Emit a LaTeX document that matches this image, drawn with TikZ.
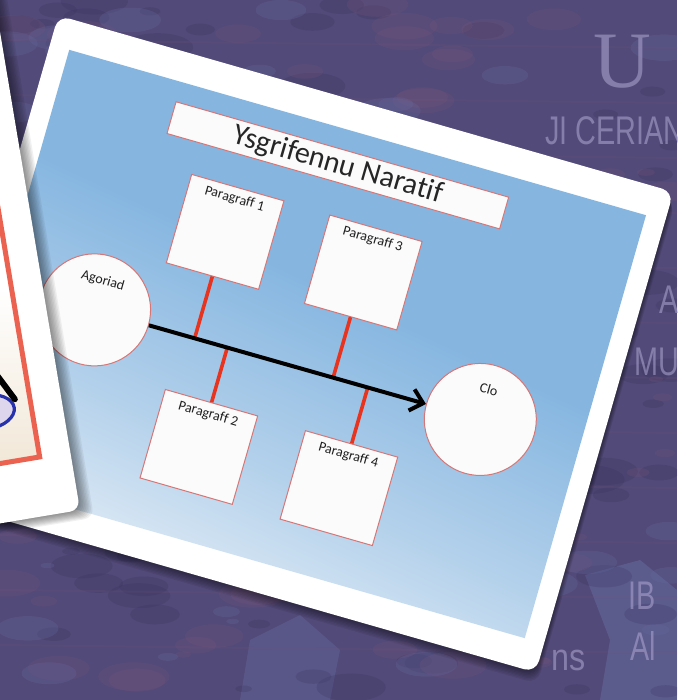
\documentclass[tikz,border=0pt]{standalone}
\usepackage{fontspec}
\setmainfont[Ligatures=NoCommon]{Carlito}
\newfontfamily\serifbg{Liberation Serif}
\newfontfamily\sansbg{Liberation Sans}
\usetikzlibrary{arrows.meta}

\definecolor{deskpurple}{RGB}{82,74,120}
\definecolor{deskdark}{RGB}{54,48,92}
\definecolor{deskpink}{RGB}{122,86,120}
\definecolor{deskblue}{RGB}{104,112,166}
\definecolor{skyblue}{RGB}{134,182,224}
\definecolor{paleblue}{RGB}{234,241,248}
\definecolor{boxedge}{RGB}{214,118,118}
\definecolor{bonered}{RGB}{232,52,30}
\definecolor{framered}{RGB}{236,98,80}
\definecolor{sandbeige}{RGB}{236,222,200}
\definecolor{inkblue}{RGB}{40,50,170}
\definecolor{lilac}{RGB}{222,214,236}
\definecolor{ghost}{RGB}{168,160,204}

\pgfdeclareverticalshading{skyfade}{100bp}{color(0bp)=(paleblue); color(25bp)=(paleblue); color(40bp)=(skyblue!55!paleblue); color(55bp)=(skyblue); color(100bp)=(skyblue)}

\tikzset{
  slab/.style={draw=boxedge, line width=0.5pt, fill=white!97!gray, minimum width=48pt, minimum height=46pt, inner sep=0pt},
  pod/.style={circle, draw=boxedge, line width=0.5pt, fill=white!97!gray, minimum size=56pt, inner sep=0pt},
  banner/.style={draw=boxedge, line width=0.5pt, fill=white!97!gray, minimum width=173pt, minimum height=16.5pt, inner sep=0pt, font=\fontsize{15}{15}\selectfont, text=black!85},
  tag/.style={anchor=north, inner sep=0pt, yshift=-3pt, font=\fontsize{7}{7}\selectfont, text=black!88},
  podtag/.style={anchor=north, inner sep=0pt, yshift=-10pt, font=\fontsize{7}{7}\selectfont, text=black!88},
  bone/.style={draw=bonered, line width=1.8pt},
  spine/.style={draw=black, line width=2pt, -{Straight Barb[length=6pt,width=11pt]}},
  ghosttext/.style={text=ghost, opacity=0.6, inner sep=0pt}
}

\begin{document}
\begin{tikzpicture}[x=0.5pt,y=-0.5pt]
  \useasboundingbox (0,0) rectangle (677,700);
  \clip (0,0) rectangle (677,700);

  % desk top
  \fill[deskpurple] (0,0) rectangle (677,700);
  \fill[deskblue,opacity=0.45] (585,575) -- (640,560) -- (677,590) -- (677,700) -- (600,700) -- (610,640) -- cycle;
  \fill[deskblue,opacity=0.35] (250,640) -- (300,615) -- (340,650) -- (330,700) -- (240,700) -- cycle;
  \pgfmathsetseed{42}
  \foreach \c/\n in {deskdark/110,deskpink/90,deskblue/70}{
    \foreach \i in {1,...,\n}{
      \pgfmathsetmacro{\bx}{rnd*677}
      \pgfmathsetmacro{\by}{rnd*700}
      \pgfmathsetmacro{\br}{6+rnd*30}
      \fill[\c,opacity=0.22] (\bx,\by) ellipse [x radius=\br, y radius=0.4*\br];
    }
  }
  \foreach \yy in {40,95,...,680}
    \draw[deskpink,opacity=0.15,line width=1pt] (0,\yy) -- (677,\yy+8);

  % faded print on the desk
  \node[ghosttext,font=\serifbg\fontsize{40}{40}\selectfont] (bgu) at (622,62) {U};
  \node[ghosttext,anchor=west,font=\sansbg\fontsize{20}{20}\selectfont] (bgceri) at (545,131) {\scalebox{0.72}[1]{JI CERIAN}};
  \node[ghosttext,anchor=west,font=\sansbg\fontsize{20}{20}\selectfont] (bga) at (659,300) {\scalebox{0.72}[1]{A}};
  \node[ghosttext,anchor=west,font=\sansbg\fontsize{20}{20}\selectfont] (bgmu) at (634,362) {\scalebox{0.72}[1]{MU}};
  \node[ghosttext,anchor=west,font=\sansbg\fontsize{20}{20}\selectfont] (bgib) at (628,596) {\scalebox{0.72}[1]{IB}};
  \node[ghosttext,anchor=west,font=\sansbg\fontsize{20}{20}\selectfont] (bgal) at (630,646) {\scalebox{0.72}[1]{Al}};
  \node[ghosttext,anchor=west,font=\sansbg\fontsize{19}{19}\selectfont] (bgns) at (551,660) {\scalebox{0.85}[1]{ns}};

  % main card
  \begin{scope}[shift={(297,344)},rotate=-16,transform shape]
    \foreach \k in {1,...,8}
      \fill[black,opacity=0.06,rounded corners=6pt] (-320+0.6*\k,-250+1.3*\k) rectangle (320+0.6*\k,250+1.3*\k);
    \fill[white,rounded corners=6pt] (-320,-250) rectangle (320,250);
    \shade[shading=skyfade,shading angle=-25] (-300,-220) rectangle (300,220);

    % Define nodes
    \node[banner] (title) at (-10,-183) {Ysgrifennu Naratif};
    \node[pod,label={[podtag]north:Agoriad}] (ago) at (-204,23) {};
    \node[pod,label={[podtag]north:Clo}] (clo) at (197,22) {};
    \node[slab,label={[tag]north:Paragraff 1}] (p1) at (-100,-88) {};
    \node[slab,label={[tag]north:Paragraff 3}] (p3) at (44,-87) {};
    \node[slab,label={[tag]north:Paragraff 2}] (p2) at (-66,126) {};
    \node[slab,label={[tag]north:Paragraff 4}] (p4) at (80,127) {};
    \coordinate (j1) at (-100,22);
    \coordinate (j3) at (44,22);
    \coordinate (j2) at (-66,22);
    \coordinate (j4) at (80,22);

    % Connect nodes
    \draw[bone] (p1) -- (j1);
    \draw[bone] (p3) -- (j3);
    \draw[bone] (p2) -- (j2);
    \draw[bone] (p4) -- (j4);
    \draw[spine] (ago) -- (clo);
  \end{scope}

  % second card on top
  \begin{scope}[shift={(80,510)},rotate=9.5]
    \foreach \k in {1,...,9}
      \fill[black,opacity=0.055,rounded corners=5pt] (-500+1.4*\k,-800+1.1*\k) rectangle (1.4*\k,1.1*\k);
    \fill[white,rounded corners=5pt] (-500,-800) rectangle (0,0);
    \shade[top color=white,bottom color=sandbeige] (-500,-230) rectangle (-31,-59);
    \fill[lilac] (-76,-112) ellipse [x radius=28, y radius=17];
    \draw[inkblue,line width=1.6pt] (-76,-112) ellipse [x radius=28, y radius=17];
    \draw[black,line width=3pt,line cap=round] (-82,-190) -- (-46,-120);
    \draw[framered,line width=2.5pt] (-500,-700) rectangle (-31,-59);
  \end{scope}
\end{tikzpicture}
\end{document}
